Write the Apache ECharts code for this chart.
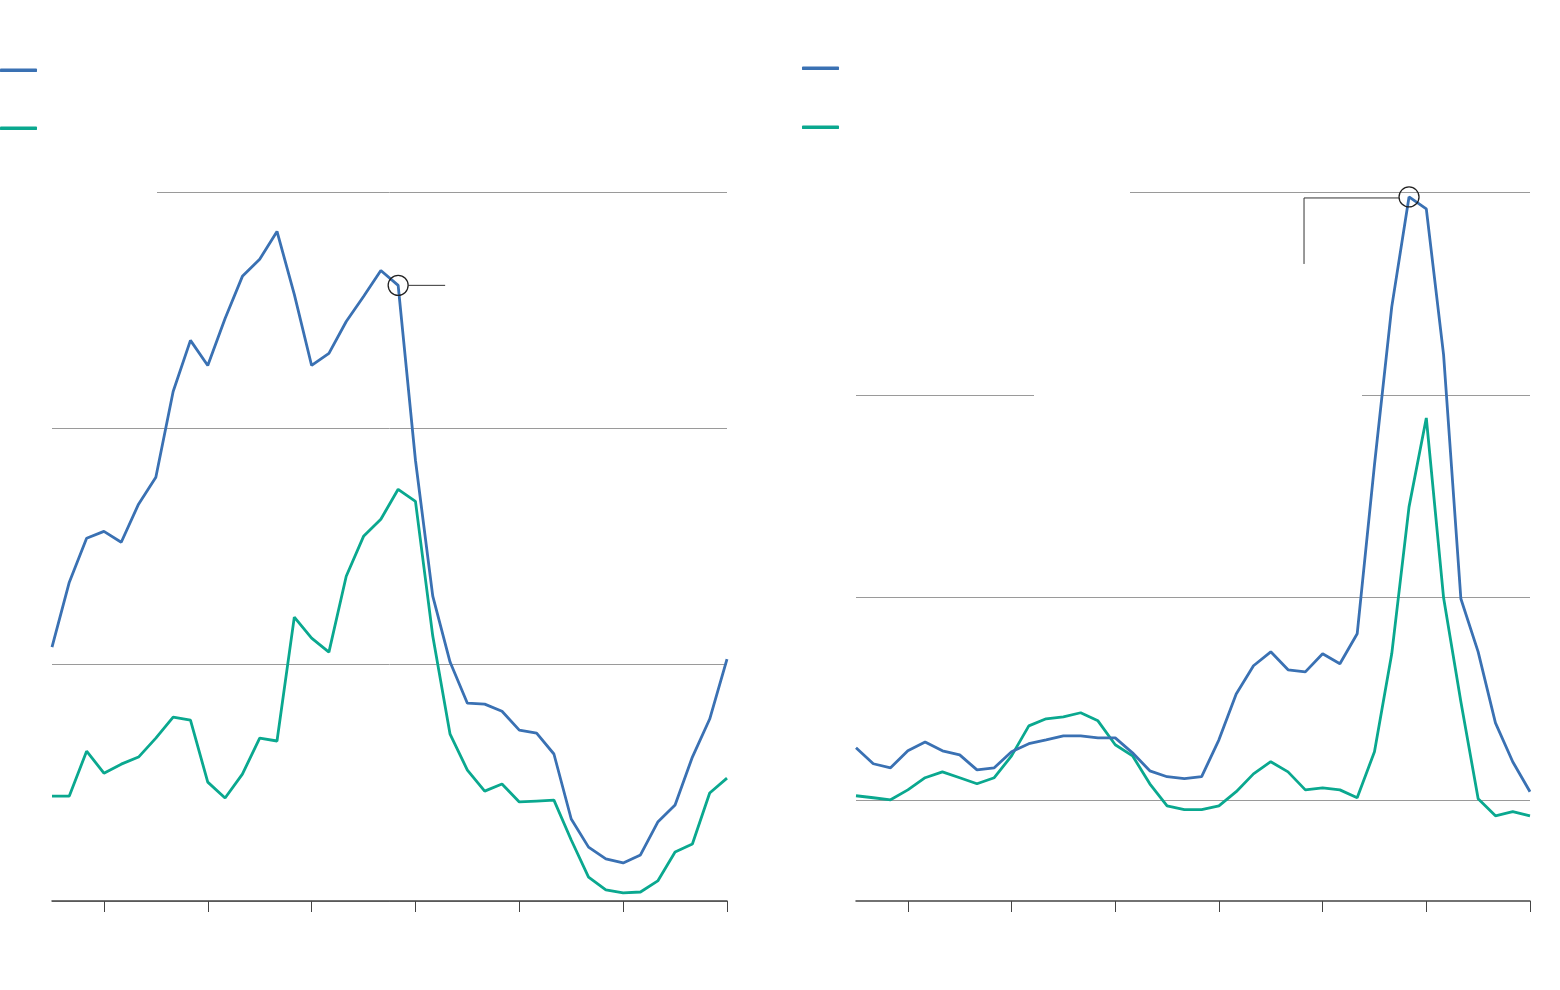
<!DOCTYPE html>
<html>
<head>
<meta charset="utf-8">
<script src="https://cdn.jsdelivr.net/npm/echarts@6/dist/echarts.min.js"></script>
<style>
  html, body { margin: 0; padding: 0; background: #ffffff; }
  #chart { width: 1560px; height: 990px; }
</style>
</head>
<body>
<div id="chart"></div>
<script>
// ---- Data ----
const categories = ['P1','P2','P3','P4','P5','P6','P7','P8','P9','P10',
  'P11','P12','P13','P14','P15','P16','P17','P18','P19','P20',
  'P21','P22','P23','P24','P25','P26','P27','P28','P29','P30',
  'P31','P32','P33','P34','P35','P36','P37','P38','P39','P40'];

const leftBlue = [10.74, 13.49, 15.35, 15.64, 15.18, 16.79, 17.93, 21.56, 23.72, 22.66,
  24.65, 26.43, 27.15, 28.33, 25.67, 22.66, 23.17, 24.52, 25.58, 26.68,
  26.05, 18.65, 12.90, 10.11, 8.37, 8.33, 8.03, 7.23, 7.10, 6.22,
  3.47, 2.28, 1.78, 1.61, 1.95, 3.34, 4.06, 6.09, 7.70, 10.23];

const leftGreen = [4.44, 4.44, 6.34, 5.41, 5.79, 6.09, 6.89, 7.78, 7.65, 5.03,
  4.36, 5.37, 6.89, 6.77, 12.01, 11.12, 10.53, 13.74, 15.43, 16.15,
  17.42, 16.91, 11.21, 7.06, 5.54, 4.65, 4.95, 4.19, 4.23, 4.27,
  2.58, 1.01, 0.47, 0.34, 0.38, 0.85, 2.07, 2.41, 4.57, 5.20];

const rightBlue = [2.57, 1.78, 1.58, 2.42, 2.86, 2.42, 2.22, 1.48, 1.58, 2.37,
  2.77, 2.96, 3.16, 3.16, 3.06, 3.06, 2.32, 1.43, 1.14, 1.04,
  1.14, 2.96, 5.23, 6.62, 7.31, 6.42, 6.32, 7.21, 6.72, 8.20,
  16.54, 24.35, 29.78, 29.19, 21.98, 9.93, 7.31, 3.80, 1.88, 0.40];

const rightGreen = [0.20, 0.10, 0.00, 0.49, 1.09, 1.38, 1.09, 0.79, 1.09, 2.17,
  3.65, 4.00, 4.10, 4.30, 3.90, 2.72, 2.17, 0.79, -0.30, -0.49,
  -0.49, -0.30, 0.40, 1.28, 1.88, 1.38, 0.49, 0.59, 0.49, 0.10,
  2.37, 7.21, 14.47, 18.86, 9.98, 4.84, 0.05, -0.79, -0.59, -0.79];

const leftYTicks = [0, 10, 20, 30];
const rightYTicks = [-5, 0, 5, 10, 15, 20, 25, 30];

const seriesNames = ['Left series A', 'Left series B', 'Right series A', 'Right series B'];
const leftMarkIndex = 20;
const rightMarkIndex = 32;

// ---- Styles ----
const BLUE = '#3a71b3';
const GREEN = '#0aa88f';
const GRID_COLOR = '#9a9a9a';
const AXIS_COLOR = '#444444';

const chart = echarts.init(document.getElementById('chart'), null, { renderer: 'canvas' });

function xAxisCfg(gridIndex) {
  return {
    type: 'category',
    gridIndex: gridIndex,
    data: categories,
    boundaryGap: false,
    axisLine: { show: true, onZero: false, lineStyle: { color: AXIS_COLOR, width: 1.5 } },
    axisTick: {
      show: true,
      length: 11,
      interval: function (idx) { return (idx - 3) % 6 === 0; },
      lineStyle: { color: AXIS_COLOR, width: 1 }
    },
    axisLabel: { show: false },
    splitLine: { show: false }
  };
}

function lineSeries(name, data, color, xi, yi, markIdx) {
  const s = {
    name: name,
    type: 'line',
    xAxisIndex: xi,
    yAxisIndex: yi,
    data: data,
    symbol: 'none',
    smooth: false,
    lineStyle: { color: color, width: 2.8 },
    itemStyle: { color: color },
    z: 3,
    silent: true
  };
  if (markIdx !== undefined) {
    s.markPoint = {
      symbol: 'circle',
      symbolSize: 20,
      silent: true,
      itemStyle: { color: 'rgba(0,0,0,0)', borderColor: '#222', borderWidth: 1.3 },
      label: { show: false },
      data: [{ coord: [categories[markIdx], data[markIdx]] }]
    };
  }
  return s;
}

const legendCommon = {
  orient: 'vertical',
  icon: 'roundRect',
  itemWidth: 37,
  itemHeight: 3.5,
  padding: 0,
  formatter: function () { return ''; },
  textStyle: { fontSize: 12 },
  selectedMode: false
};

const option = {
  backgroundColor: '#ffffff',
  animation: false,
  grid: [
    { left: 52, right: 1560 - 727, top: 192, bottom: 990 - 901, containLabel: false },
    { left: 856, right: 1560 - 1530, top: 192.5, bottom: 990 - 901, containLabel: false }
  ],
  legend: [
    Object.assign({}, legendCommon, { left: 0, top: 68.5, itemGap: 54.5, data: [seriesNames[0], seriesNames[1]] }),
    Object.assign({}, legendCommon, { left: 802, top: 66.5, itemGap: 55.5, data: [seriesNames[2], seriesNames[3]] })
  ],
  xAxis: [xAxisCfg(0), xAxisCfg(1)],
  yAxis: [
    {
      type: 'value', gridIndex: 0,
      min: leftYTicks[0], max: leftYTicks[leftYTicks.length - 1], interval: 10,
      axisLine: { show: false }, axisTick: { show: false }, axisLabel: { show: false },
      splitLine: { show: true, lineStyle: { color: GRID_COLOR, width: 1 } }
    },
    {
      type: 'value', gridIndex: 1,
      min: rightYTicks[0], max: rightYTicks[rightYTicks.length - 1], interval: 5,
      axisLine: { show: false }, axisTick: { show: false }, axisLabel: { show: false },
      splitLine: { show: true, lineStyle: { color: ['rgba(0,0,0,0)', GRID_COLOR], width: 1 } }
    }
  ],
  series: [
    lineSeries(seriesNames[1], leftGreen, GREEN, 0, 0),
    lineSeries(seriesNames[0], leftBlue, BLUE, 0, 0, leftMarkIndex),
    lineSeries(seriesNames[3], rightGreen, GREEN, 1, 1),
    lineSeries(seriesNames[2], rightBlue, BLUE, 1, 1, rightMarkIndex)
  ]
};

chart.setOption(option);

// Annotation leader lines and label gaps in the gridlines
const pL = chart.convertToPixel({ xAxisIndex: 0, yAxisIndex: 0 }, [leftMarkIndex, leftBlue[leftMarkIndex]]);
const pR = chart.convertToPixel({ xAxisIndex: 1, yAxisIndex: 1 }, [rightMarkIndex, rightBlue[rightMarkIndex]]);
const yTopL = chart.convertToPixel({ yAxisIndex: 0 }, 30);
const yTopR = chart.convertToPixel({ yAxisIndex: 1 }, 30);
const yMidR = chart.convertToPixel({ yAxisIndex: 1 }, 20);

chart.setOption({
  graphic: [
    { type: 'rect', z: 1, silent: true, shape: { x: 48, y: yTopL - 4, width: 157 - 48, height: 8 }, style: { fill: '#ffffff' } },
    { type: 'rect', z: 1, silent: true, shape: { x: 852, y: yTopR - 4, width: 1130 - 852, height: 8 }, style: { fill: '#ffffff' } },
    { type: 'rect', z: 1, silent: true, shape: { x: 1034, y: yMidR - 4, width: 1362 - 1034, height: 8 }, style: { fill: '#ffffff' } },
    { type: 'polyline', z: 5, silent: true,
      shape: { points: [[pL[0] + 10, pL[1]], [pL[0] + 47, pL[1]]] },
      style: { stroke: '#333', lineWidth: 1, fill: null } },
    { type: 'polyline', z: 5, silent: true,
      shape: { points: [[pR[0] - 10, pR[1] + 1], [pR[0] - 105, pR[1] + 1], [pR[0] - 105, pR[1] + 67]] },
      style: { stroke: '#333', lineWidth: 1, fill: null } }
  ]
});
</script>
</body>
</html>
